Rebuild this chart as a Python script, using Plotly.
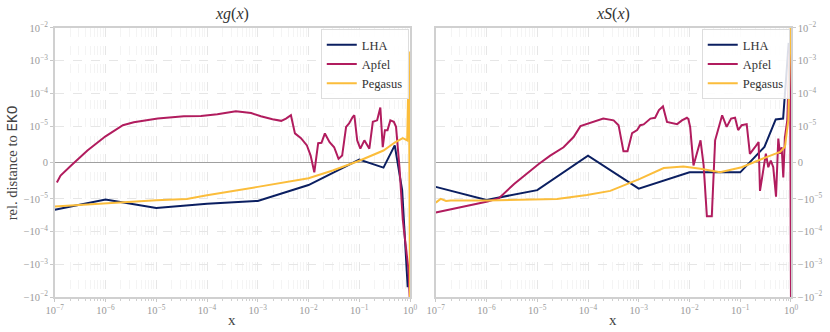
import math

import plotly.graph_objects as go

LINTHRESH = 1e-5
LINSCALE = 1.0 / (1.0 - 0.1)  # matplotlib symlog adjusted linscale (base 10)

COLORS = {"LHA": "#0b1f61", "Apfel": "#b11c5e", "Pegasus": "#fbbd3b"}

# --- xg(x) panel -----------------------------------------------------------
g_lha_x = [1e-7, 1e-6, 1e-5, 1e-4, 1e-3, 1e-2, 0.1, 0.3, 0.5, 0.7, 0.9]
g_lha_y = [-2.15e-5, -1.05e-5, -1.9e-5, -1.4e-5, -1.15e-5, -6.2e-6, 8e-7, -1.4e-6, 4.7e-6, -7.6e-6, -5e-3]

g_apfel_x = [1.1e-7, 1.3e-7, 2.1e-7, 4.4e-7, 1.0e-6, 2.2e-6, 3.6e-6, 1.07e-5, 3.5e-5, 7.6e-5,
             1.6e-4, 2.6e-4, 3.7e-4, 7.4e-4, 1.15e-3, 1.95e-3, 2.9e-3, 3.6e-3, 4.5e-3, 5.4e-3,
             7.1e-3, 9.3e-3, 1.1e-2, 1.3e-2, 1.55e-2, 1.8e-2, 2.1e-2, 2.6e-2, 3.2e-2, 3.9e-2,
             4.6e-2, 5.5e-2, 6.3e-2, 7.4e-2, 8.0e-2, 9.1e-2, 0.105, 0.126, 0.158, 0.185,
             0.225, 0.26, 0.29, 0.32, 0.36, 0.41, 0.48, 0.53, 0.62, 0.72,
             0.835, 0.93, 0.99]
g_apfel_y = [-5.5e-6, -3.6e-6, -8e-7, 3.3e-6, 7.2e-6, 1.07e-5, 1.32e-5, 1.7e-5, 2.0e-5, 2.05e-5,
             2.3e-5, 2.65e-5, 2.85e-5, 2.5e-5, 2.0e-5, 1.63e-5, 1.45e-5, 1.7e-5, 2.15e-5, 8.0e-6,
             6.7e-6, 4.7e-6, 1.9e-6, -2.7e-6, 5.3e-6, 5.4e-6, 8.0e-6, 5.6e-6, 4.2e-6, 1.0e-6,
             1.9e-6, 9.8e-6, 1.2e-5, 1.9e-5, 2.15e-5, 6.1e-6, 3.8e-6, 6.1e-6, 3.8e-6, 1.35e-5,
             1.5e-5, 3.7e-5, 4.2e-6, 8.9e-6, 8.9e-6, 1.5e-5, 1.35e-5, 9.8e-6, -1.3e-6, -4.3e-5,
             -3.5e-4, -1.4e-3, -1.2e-2]

g_peg_x = [1e-7, 1e-6, 1e-5, 4e-5, 1e-4, 1e-3, 1e-2, 3e-2, 0.1, 0.3, 0.5, 0.72, 0.88, 0.95, 1.0]
g_peg_y = [-1.7e-5, -1.35e-5, -1.1e-5, -1.0e-5, -9e-6, -6.7e-6, -4.3e-6, -2.2e-6, 5e-7, 3.3e-6,
           5.5e-6, 6.7e-6, 6.1e-6, 1.9e-3, -2e-2]

# --- xS(x) panel -----------------------------------------------------------
s_lha_x = [1e-7, 1e-6, 1e-5, 1e-4, 1e-3, 1e-2, 0.1, 0.3, 0.5, 0.7, 0.9]
s_lha_y = [-6.7e-6, -1.07e-5, -7.6e-6, 1.9e-6, -7.2e-6, -2.7e-6, -2.7e-6, 4.3e-6, 1.6e-5, 1.7e-5, 3.5e-3]

s_apfel_x = [1e-7, 3.1e-7, 1.05e-6, 1.76e-6, 3.5e-6, 1.07e-5, 1.8e-5, 3.3e-5, 5.2e-5, 7.1e-5,
             1.12e-4, 2.0e-4, 3.2e-4, 4.0e-4, 5.0e-4, 6.0e-4, 7.4e-4, 9.3e-4, 1.07e-3, 1.25e-3,
             1.7e-3, 2.1e-3, 2.5e-3, 3.0e-3, 3.6e-3, 5.7e-3, 7.1e-3, 8.9e-3, 9.5e-3, 1.03e-2,
             1.2e-2, 1.65e-2, 1.9e-2, 2.2e-2, 2.75e-2, 3.2e-2, 4.4e-2, 5.4e-2, 6.6e-2, 7.9e-2,
             9.1e-2, 0.107, 0.134, 0.155, 0.195, 0.23, 0.245, 0.285, 0.32, 0.357,
             0.40, 0.447, 0.507, 0.562, 0.607, 0.656, 0.705, 0.76, 0.845, 0.955, 1.0]
s_apfel_y = [-2.6e-5, -1.8e-5, -1.2e-5, -9.8e-6, -5.9e-6, -4e-7, 1.9e-6, 4.2e-6, 7e-6, 1e-5,
             1.26e-5, 1.7e-5, 1.5e-5, 1.07e-5, 3.1e-6, 3.1e-6, 8.1e-6, 8.9e-6, 1.07e-5, 1.13e-5,
             1.7e-5, 1.8e-5, 3.1e-5, 4.0e-5, 1.35e-5, 1.15e-5, 1.5e-5, 1.8e-5, 1.65e-5, 9.8e-6,
             -8e-7, 6.1e-6, -8e-7, -3.4e-5, -3.4e-5, 6.1e-6, 2.15e-5, 9.8e-6, 1.7e-5, 1.8e-5,
             8.9e-6, 1.07e-5, 1.15e-5, 2.4e-6, 4.2e-6, 5.6e-6, -7.8e-6, -1.75e-6, 2.4e-6, -1.3e-6,
             5.5e-7, -1.3e-6, -9.4e-6, 6.6e-6, 2.4e-6, 4.2e-6, -4.1e-6, 7e-6, 1.5e-5, 3.6e-3, -2e-2]

s_peg_x = [1e-7, 1.25e-7, 1.6e-7, 1.97e-7, 1.05e-6, 1.06e-5, 2.45e-5, 9.5e-5, 2.75e-4, 1.05e-3,
           3.1e-3, 7.6e-3, 1.65e-2, 4.0e-2, 0.107, 0.33, 0.61, 0.76, 0.885, 0.986]
s_peg_y = [-1.3e-5, -1.0e-5, -1.15e-5, -1.12e-5, -1.12e-5, -1.07e-5, -1.0e-5, -8.9e-6, -7.8e-6, -4.5e-6,
           -1.5e-6, -1.1e-6, -1.7e-6, -2.7e-6, -1.3e-6, 1.5e-6, 2.9e-6, 4.3e-6, 1.5e-5, 1.2e-2]

Y_TICKS = [-1e-2, -1e-3, -1e-4, -1e-5, 0, 1e-5, 1e-4, 1e-3, 1e-2]
X_TICKS = [1e-7, 1e-6, 1e-5, 1e-4, 1e-3, 1e-2, 1e-1, 1]


def symlog(v):
    """matplotlib-style symlog transform (linthresh 1e-5)."""
    a = abs(v)
    if a <= LINTHRESH:
        return v / LINTHRESH * LINSCALE
    s = 1 if v > 0 else -1
    return s * (LINSCALE + math.log10(a / LINTHRESH))


def ytick_label(v):
    if v == 0:
        return "0"
    e = int(round(math.log10(abs(v))))
    sign = "−" if v < 0 else ""
    return f"{sign}10<sup>−{-e}</sup>"


def xtick_label(v):
    e = int(round(math.log10(v)))
    return "10<sup>0</sup>" if e == 0 else f"10<sup>−{-e}</sup>"


SERIF = "Liberation Serif, DejaVu Serif, serif"
GRID = "#e6e6e6"
TICKC = "#9a9a9a"

minor_x = [m * 10.0 ** k for k in range(-7, 0) for m in range(2, 10)]

fig = go.Figure()

panels = [
    (1, "legend", [(g_lha_x, g_lha_y, "LHA"), (g_apfel_x, g_apfel_y, "Apfel"), (g_peg_x, g_peg_y, "Pegasus")]),
    (2, "legend2", [(s_lha_x, s_lha_y, "LHA"), (s_apfel_x, s_apfel_y, "Apfel"), (s_peg_x, s_peg_y, "Pegasus")]),
]
for idx, leg, series in panels:
    ax = "" if idx == 1 else str(idx)
    for xs, ys, name in series:
        fig.add_trace(go.Scatter(
            x=xs, y=[symlog(v) for v in ys], name=name, mode="lines",
            line=dict(color=COLORS[name], width=2),
            xaxis="x" + ax, yaxis="y" + ax, legend=leg,
        ))

ymax = symlog(1e-2)
yaxis_common = dict(
    range=[-ymax, ymax], tickmode="array", automargin=False,
    tickvals=[symlog(v) for v in Y_TICKS], ticktext=[ytick_label(v) for v in Y_TICKS],
    showgrid=True, gridcolor=GRID, griddash="dash", gridwidth=1,
    zeroline=True, zerolinecolor="#a0a0a0", zerolinewidth=1.2,
    showline=True, linecolor="#d0d0d0", linewidth=1.5, mirror=True,
    ticks="outside", ticklen=3, tickcolor="#c8c8c8",
    tickfont=dict(family=SERIF, size=10.5, color=TICKC),
)
xaxis_common = dict(
    type="log", range=[-7, 0], tickmode="array", automargin=False,
    tickvals=X_TICKS, ticktext=[xtick_label(v) for v in X_TICKS],
    showgrid=True, gridcolor=GRID, griddash="dash", gridwidth=1,
    minor=dict(tickvals=minor_x, showgrid=True, gridcolor="#f4f4f4", griddash="dash", gridwidth=0.8,
               ticks="outside", ticklen=2, tickcolor="#d0d0d0"),
    showline=True, linecolor="#d0d0d0", linewidth=1.5, mirror=True,
    ticks="outside", ticklen=3, tickcolor="#c8c8c8",
    tickfont=dict(family=SERIF, size=10.5, color=TICKC),
)

legend_common = dict(
    font=dict(family=SERIF, size=12.5, color="#333"),
    bgcolor="rgba(255,255,255,0.85)", bordercolor="#dddddd", borderwidth=1,
    yanchor="top", xanchor="right", y=0.912, tracegroupgap=0, itemwidth=30,
)

note = dict(xref="paper", yref="paper", showarrow=False, xanchor="center", yanchor="middle")

fig.update_layout(
    width=830, height=332,
    margin=dict(l=0, r=0, t=0, b=0),
    paper_bgcolor="white", plot_bgcolor="white",
    xaxis=dict(domain=[0.066, 0.494], anchor="y", **xaxis_common),
    yaxis=dict(domain=[0.105, 0.916], anchor="x", side="left", **yaxis_common),
    xaxis2=dict(domain=[0.525, 0.953], anchor="y2", **xaxis_common),
    yaxis2=dict(domain=[0.105, 0.916], anchor="x2", side="right", **yaxis_common),
    legend=dict(x=0.4925, **legend_common),
    legend2=dict(x=0.9515, **legend_common),
    annotations=[
        dict(text="<i>xg</i>(<i>x</i>)", x=0.28, y=0.958,
             font=dict(family=SERIF, size=16, color="#333"), **note),
        dict(text="<i>xS</i>(<i>x</i>)", x=0.739, y=0.958,
             font=dict(family=SERIF, size=16, color="#333"), **note),
        dict(text="x", x=0.28, y=0.035, font=dict(family=SERIF, size=15, color="#444"), **note),
        dict(text="x", x=0.739, y=0.035, font=dict(family=SERIF, size=15, color="#444"), **note),
        dict(text="rel. distance to <span style='font-family:DejaVu Sans Mono, Liberation Mono, monospace'>EKO</span>",
             x=0.014, y=0.51, textangle=-90, font=dict(family=SERIF, size=14.5, color="#444"), **note),
    ],
)

fig.write_html("out.html", config={"displayModeBar": False},
               post_script="document.body.style.margin='0px';")
